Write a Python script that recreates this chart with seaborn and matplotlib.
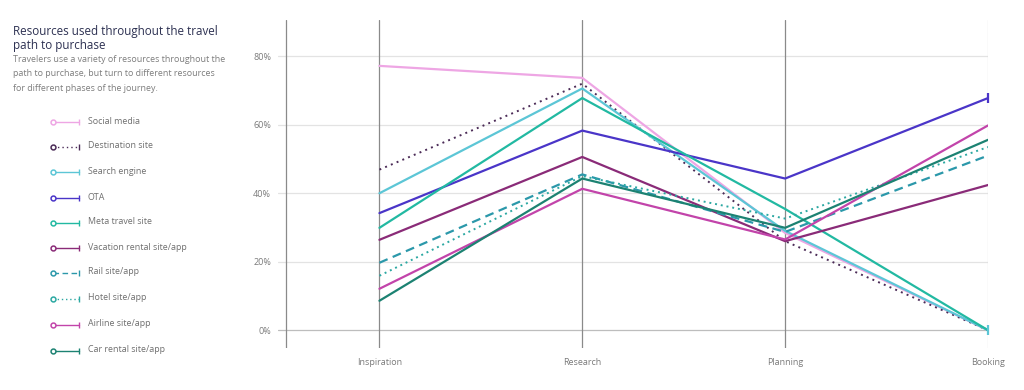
import matplotlib
matplotlib.use("Agg")
import matplotlib.pyplot as plt
import seaborn as sns
import pandas as pd
import numpy as np
from matplotlib.lines import Line2D

stages = ["Inspiration", "Research", "Planning", "Booking"]
resources = ["Social media", "Destination site", "Search engine", "OTA",
             "Meta travel site", "Vacation rental site/app", "Rail site/app",
             "Hotel site/app", "Airline site/app", "Car rental site/app"]

social_media = [77.2, 73.7, 28.4, 0]
destination_site = [46.9, 72.0, 26.0, 0]
search_engine = [40.0, 70.6, 29.0, 0]
ota = [34.2, 58.3, 44.3, 67.8]
meta_travel_site = [29.9, 67.8, 35.4, 0]
vacation_rental = [26.4, 50.6, 26.0, 42.4]
rail_site = [19.7, 45.5, 28.7, 51.0]
hotel_site = [15.9, 45.0, 32.6, 53.5]
airline_site = [12.1, 41.3, 26.5, 59.8]
car_rental = [8.6, 44.3, 29.9, 55.6]

values = [social_media, destination_site, search_engine, ota, meta_travel_site,
          vacation_rental, rail_site, hotel_site, airline_site, car_rental]

colors = ["#eea6e4", "#4b2b57", "#5cc6d6", "#4a35c8", "#22b9a2",
          "#8a2b78", "#2b98aa", "#2ba8a2", "#c244aa", "#1c8272"]
styles = ["-", (0, (1, 2.2)), "-", "-", "-", "-", (0, (4, 2.5)), (0, (1, 2)), "-", "-"]
widths = [1.6, 1.4, 1.6, 1.6, 1.6, 1.6, 1.6, 1.4, 1.6, 1.6]
end_tick = [False, False, True, True, False, False, False, False, False, False]

yticks = [0, 20, 40, 60, 80]

df = pd.DataFrame([(r, s, v) for r, vals in zip(resources, values)
                   for s, v in zip(stages, vals)],
                  columns=["resource", "stage", "share"])
df["pos"] = df["stage"].map({s: i for i, s in enumerate(stages)})

sns.set_theme(style="white")
plt.rcParams["font.family"] = ["Open Sans", "DejaVu Sans"]

fig = plt.figure(figsize=(10.24, 3.9), dpi=100)
W, H = 1024, 390
ax = fig.add_axes([278 / W, 1 - 348 / H, (988 - 278) / W, (348 - 20) / H])

ax.set_xlim(-0.5, 3.0)
ax.set_ylim(-5.2, 90.6)

# gridlines
for t in yticks:
    ax.axhline(t, color="#bdbdbd" if t == 0 else "#e3e3e3", lw=0.9, zorder=0)
# vertical stage lines
for i, s in enumerate(stages):
    ax.axvline(i, color="#d8d8d8" if i == 3 else "#8a8a8a", lw=0.9, zorder=0)
ax.axvline(-0.46, color="#8a8a8a", lw=0.9, zorder=0)

for r, c, ls, lw, et in zip(resources, colors, styles, widths, end_tick):
    sub = df[df["resource"] == r]
    sns.lineplot(data=sub, x="pos", y="share", ax=ax, color=c, lw=lw,
                 linestyle=ls, legend=False, zorder=3)
    if et:
        last = sub.iloc[-1]
        ax.plot([last["pos"]], [last["share"]], marker="|", ms=7, mew=1.6,
                color=c, zorder=4, clip_on=False)

for sp in ax.spines.values():
    sp.set_visible(False)
ax.set_xlabel("")
ax.set_ylabel("")
ax.set_yticks(yticks)
ax.set_yticklabels([f"{t}%" for t in yticks], fontsize=6.5, color="#7a7a7a")
ax.set_xticks(range(len(stages)))
ax.set_xticklabels(stages, fontsize=6.5, color="#7a7a7a")
ax.tick_params(axis="y", length=0, pad=5)
ax.tick_params(axis="x", length=0, pad=7)

# Title and description
fig.text(13 / W, 1 - 38 / H, "Resources used throughout the travel\npath to purchase",
         fontsize=8.4, color="#2d3152", va="center", ha="left", linespacing=1.1)
fig.text(13 / W, 1 - 74 / H,
         "Travelers use a variety of resources throughout the\n"
         "path to purchase, but turn to different resources\n"
         "for different phases of the journey.",
         fontsize=6.4, color="#7d7d7d", va="center", ha="left", linespacing=1.75)

# Legend
lax = fig.add_axes([0, 0, 278 / W, 1])
lax.set_xlim(0, 278)
lax.set_ylim(H, 0)
lax.axis("off")
leg_y = [122, 147, 172, 198, 223, 248, 273, 299, 325, 351]
for r, c, ls, y in zip(resources, colors, styles, leg_y):
    lax.add_line(Line2D([53, 79], [y, y], color=c, lw=1.0, linestyle=ls))
    lax.plot([53], [y], marker="o", ms=3.5, mfc="white", mec=c, mew=1.1)
    lax.plot([79], [y], marker="|", ms=4, mew=1.0, color=c)
    lax.text(88, y - 1, r, fontsize=6.4, color="#6f6f6f", va="center", ha="left")

fig.savefig("out.png", dpi=100, facecolor="white")
